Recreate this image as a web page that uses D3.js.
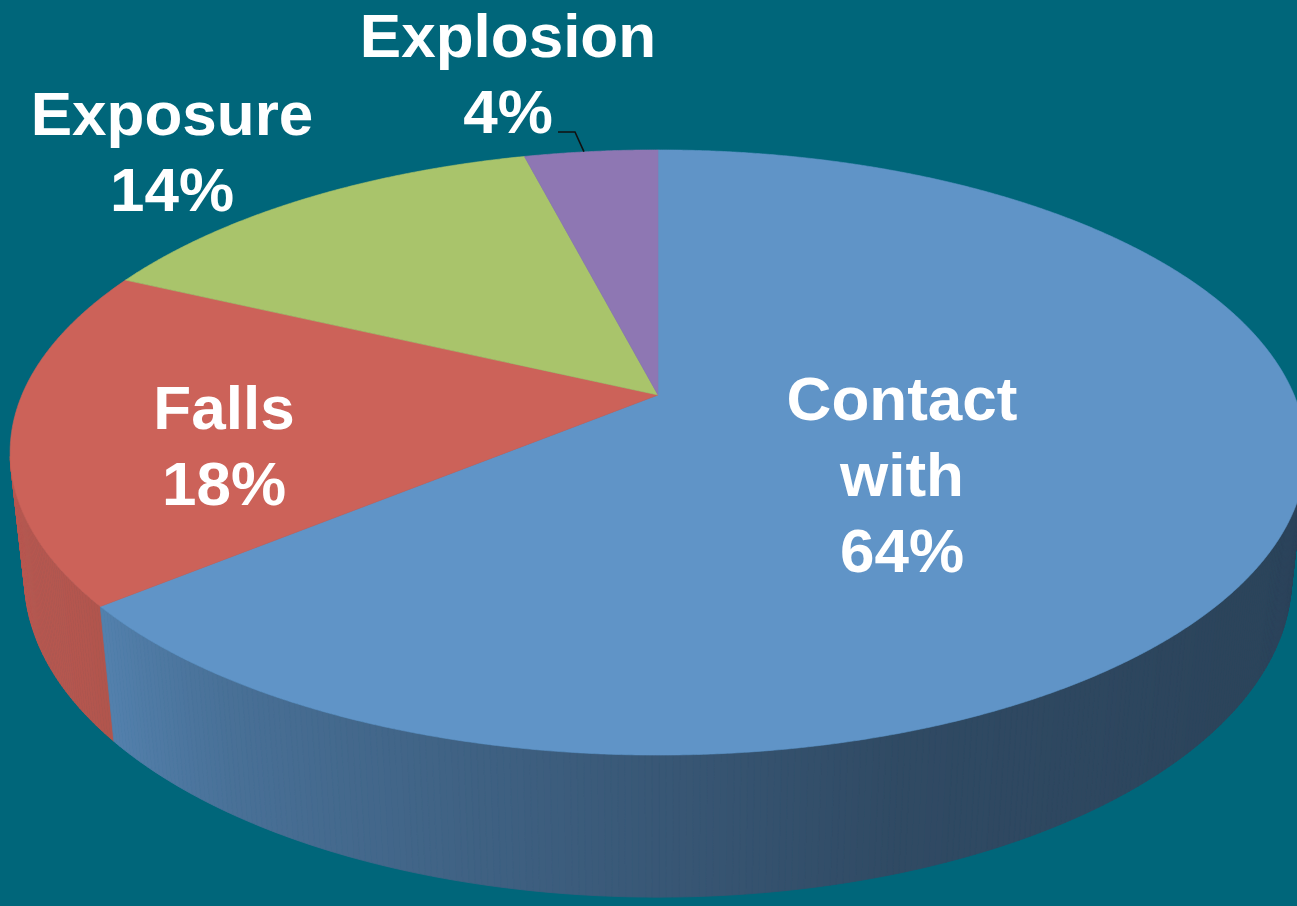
<!DOCTYPE html>
<html>
<head>
<meta charset="utf-8">
<script src="https://cdn.jsdelivr.net/npm/d3@7"></script>
<style>
  html, body { margin: 0; padding: 0; background: #00667a; }
  svg { display: block; }
  text { font-family: "Liberation Sans", Arial, sans-serif; font-weight: bold; fill: #ffffff; }
</style>
</head>
<body>
<svg id="chart" width="1297" height="906"></svg>
<script>
// Fatality causes, share of total (%)
const categories = ["Contact with", "Falls", "Exposure", "Explosion"];
const shares = [64, 18, 14, 4];

// Slice colours (top face)
const palette = ["#6094c7", "#cc6259", "#a9c46b", "#8e77b3"];

// Label placement: centre x and baseline of first line
const labelLayout = [
  { x: 902, y: 420, lines: ["Contact", "with"] },
  { x: 224, y: 429, lines: ["Falls"] },
  { x: 172, y: 135, lines: ["Exposure"] },
  { x: 508, y: 57,  lines: ["Explosion"] }
];
const lineHeight = 76;
const fontSize = 62;

// Perspective camera for the 3D pie
const cam = {
  cx: 658, cy: 395,       // screen position of the pie's centre on its top face
  focal: 2975,            // focal length in pixels
  dist: 4.677,            // camera distance in pie radii
  tilt: Math.asin(0.4585),// elevation of the camera
  thickness: 0.223        // pie depth in pie radii
};
const sinA = Math.sin(cam.tilt), cosA = Math.cos(cam.tilt);

// angle: clockwise from 12 o'clock (as produced by d3.pie); r: radius; z: height
function project(angle, r, z) {
  const x = r * Math.sin(angle);
  const y = r * Math.cos(angle);      // positive = away from viewer
  const depth = y * cosA - z * sinA + cam.dist;
  const yc = y * sinA + z * cosA;
  return [cam.cx + cam.focal * x / depth, cam.cy - cam.focal * yc / depth, depth];
}

// Side shading by facing angle (degrees)
const shade = d3.scaleLinear()
  .domain([60, 130, 162, 192, 215, 229, 235, 262, 300])
  .range([0.44, 0.46, 0.5, 0.65, 0.76, 0.86, 0.88, 0.91, 0.92])
  .clamp(true);

function shaded(color, f) {
  const c = d3.rgb(color);
  return d3.rgb(c.r * f, c.g * f, c.b * f).formatHex();
}

const svg = d3.select("#chart");

const arcs = d3.pie().sort(null).value(d => d)(shares);

// ---- side wall, built from thin facets sorted back to front
const step = Math.PI / 360;
const facets = [];
arcs.forEach((a, i) => {
  const n = Math.max(1, Math.ceil((a.endAngle - a.startAngle) / step));
  for (let k = 0; k < n; k++) {
    const t0 = a.startAngle + (a.endAngle - a.startAngle) * k / n;
    const t1 = a.startAngle + (a.endAngle - a.startAngle) * (k + 1) / n;
    const tm = (t0 + t1) / 2;
    // only facets turned toward the camera
    if (Math.cos(tm) > -0.2) continue;
    const p = [project(t0, 1, 0), project(t1, 1, 0),
               project(t1, 1, -cam.thickness), project(t0, 1, -cam.thickness)];
    facets.push({
      pts: p.map(q => [q[0], q[1]]),
      depth: project(tm, 1, -cam.thickness / 2)[2],
      color: shaded(palette[i], shade(tm * 180 / Math.PI))
    });
  }
});
facets.sort((a, b) => b.depth - a.depth);

const line = d3.line();
svg.append("g").attr("class", "side")
  .selectAll("path").data(facets).join("path")
  .attr("d", d => line(d.pts) + "Z")
  .attr("fill", d => d.color)
  .attr("stroke", d => d.color)
  .attr("stroke-width", 0.8)
  .attr("stroke-linejoin", "round");

// ---- top face
function topPath(a) {
  const pts = [[cam.cx, cam.cy]];
  const n = Math.max(2, Math.ceil((a.endAngle - a.startAngle) / (Math.PI / 720)));
  for (let k = 0; k <= n; k++) {
    const t = a.startAngle + (a.endAngle - a.startAngle) * k / n;
    const p = project(t, 1, 0);
    pts.push([p[0], p[1]]);
  }
  return line(pts) + "Z";
}

svg.append("g").attr("class", "top")
  .selectAll("path").data(arcs).join("path")
  .attr("d", d => topPath(d))
  .attr("fill", (d, i) => palette[i])
  .attr("stroke", (d, i) => palette[i])
  .attr("stroke-width", 0.6);

// ---- leader line for the small slice
const small = arcs[3];
const tip = project((small.startAngle + small.endAngle) / 2, 1, 0);
svg.append("path")
  .attr("d", line([[558, 132], [575, 132], [tip[0] - 7, tip[1]]]))
  .attr("fill", "none")
  .attr("stroke", "#111")
  .attr("stroke-width", 1.6);

// ---- data labels
const labels = svg.append("g").attr("class", "labels");
categories.forEach((c, i) => {
  const L = labelLayout[i];
  const rows = L.lines.concat([shares[i] + "%"]);
  const t = labels.append("text")
    .attr("text-anchor", "middle")
    .attr("font-size", fontSize);
  rows.forEach((r, j) => {
    t.append("tspan").attr("x", L.x).attr("y", L.y + j * lineHeight).text(r);
  });
});
</script>
</body>
</html>
